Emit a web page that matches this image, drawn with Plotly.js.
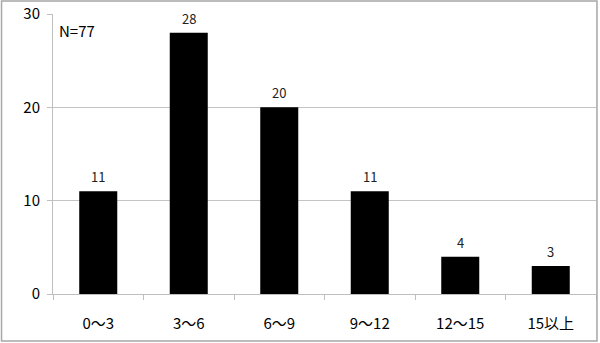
<!DOCTYPE html>
<html>
<head>
<meta charset="utf-8">
<script src="https://cdn.plot.ly/plotly-3.0.1.min.js"></script>
<style>html,body{margin:0;padding:0;background:#fff;}#chart{width:600px;height:343px;}</style>
</head>
<body>
<div id="chart"></div>
<script>
const categories = ["0〜3", "3〜6", "6〜9", "9〜12", "12〜15", "15以上"];
const counts = [11, 28, 20, 11, 4, 3];
const yTicks = [0, 10, 20, 30];
const noteText = "N=77";

const FONT = "'Noto Sans CJK JP', 'DejaVu Sans', sans-serif";

const trace = {
  type: "bar",
  x: categories,
  y: counts,
  marker: {color: "#000000", line: {width: 0}},
  hoverinfo: "none"
};

const valueLabels = categories.map((c, i) => ({
  xref: "x", yref: "y",
  x: c, y: counts[i],
  xanchor: "center", yanchor: "bottom",
  yshift: 3,
  text: String(counts[i]),
  showarrow: false,
  font: {family: FONT, size: 13, color: "#222"}
}));

const layout = {
  width: 600,
  height: 343,
  margin: {l: 53, r: 4, t: 14, b: 49, pad: 0},
  paper_bgcolor: "#ffffff",
  plot_bgcolor: "#ffffff",
  showlegend: false,
  bargap: 0.58,
  font: {family: FONT, size: 14, color: "#000"},
  xaxis: {
    type: "category",
    showgrid: false,
    showline: true,
    linecolor: "#bfbfbf",
    linewidth: 1,
    ticks: "outside",
    tickson: "boundaries",
    ticklen: 5,
    tickcolor: "#bfbfbf",
    tickfont: {family: FONT, size: 15, color: "#000"},
    ticklabelstandoff: 16,
    zeroline: false
  },
  yaxis: {
    range: [0, 30],
    tickvals: yTicks,
    ticktext: yTicks.map(String),
    showgrid: true,
    gridcolor: "#c4c4c4",
    gridwidth: 1,
    showline: true,
    linecolor: "#bfbfbf",
    linewidth: 1,
    ticks: "outside",
    ticklen: 5,
    tickcolor: "#bfbfbf",
    tickfont: {family: FONT, size: 15, color: "#000"},
    ticklabelstandoff: 4,
    zeroline: false
  },
  annotations: [{
    xref: "paper", yref: "paper",
    x: 0.008, y: 0.985,
    xanchor: "left", yanchor: "top",
    text: noteText,
    showarrow: false,
    font: {family: FONT, size: 15, color: "#000"}
  }].concat(valueLabels),
  shapes: [{
    type: "rect",
    xref: "paper", yref: "paper",
    x0: -0.0948, x1: 1.0018,
    y0: -0.168, y1: 1.0464,
    line: {color: "#a6a6a6", width: 1.5},
    fillcolor: "rgba(0,0,0,0)",
    layer: "above"
  }]
};

Plotly.newPlot("chart", [trace], layout, {staticPlot: true, displayModeBar: false});
</script>
</body>
</html>
